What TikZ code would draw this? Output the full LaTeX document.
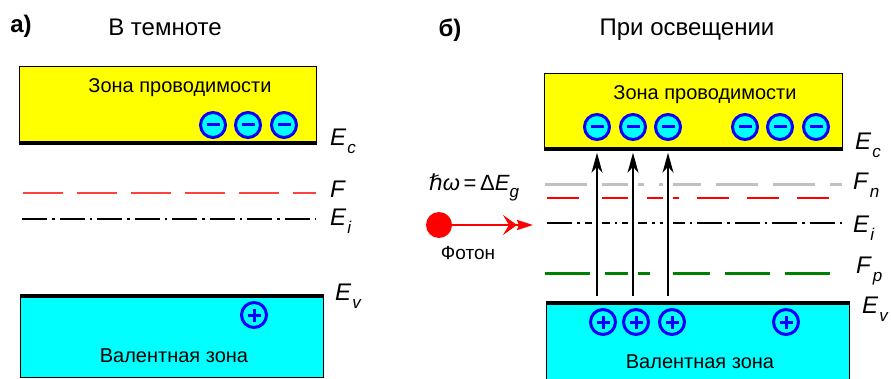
\documentclass[tikz,border=0pt]{standalone}
\usepackage{fontspec}
\setmainfont{Liberation Sans}
\newfontfamily\symbfont{DejaVu Sans}
\usetikzlibrary{arrows.meta,positioning}
\definecolor{bandyellow}{RGB}{255,255,0}
\definecolor{bandcyan}{RGB}{0,255,255}
\definecolor{chargeblue}{RGB}{0,0,255}
\definecolor{fermired}{RGB}{255,64,64}
\definecolor{quasired}{RGB}{255,0,0}
\definecolor{quasigray}{RGB}{192,192,192}
\definecolor{quasigreen}{RGB}{0,128,0}
\newcommand{\lvllabel}[2]{\textit{#1}\hspace{1pt}\raisebox{-8pt}{\fontsize{17}{17}\selectfont\textit{#2}}}

\begin{document}
\begin{tikzpicture}[x=1pt,y=-1pt]
\tikzset{
  cband/.style={draw=black,line width=0.8pt,fill=bandyellow,anchor=north west,inner sep=0pt},
  vband/.style={draw=black,line width=0.8pt,fill=bandcyan,anchor=north west,inner sep=0pt},
  bandedge/.style={line width=3.5pt},
  bandtext/.style={anchor=base,inner sep=0pt,font=\fontsize{20}{20}\selectfont},
  title/.style={font=\fontsize{24}{24}\selectfont},
  panel/.style={font=\bfseries\fontsize{24}{24}\selectfont},
  lvl/.style={anchor=base west,inner sep=0pt,font=\fontsize{24}{24}\selectfont},
  charge/.style={circle,draw=chargeblue,line width=3pt,fill=bandcyan,minimum size=25pt,inner sep=0pt},
  electron/.style={charge,path picture={
    \draw[chargeblue,line width=3pt] ([xshift=-6.5pt]path picture bounding box.center) -- ([xshift=6.5pt]path picture bounding box.center);}},
  hole/.style={charge,path picture={
    \draw[chargeblue,line width=3pt] ([xshift=-6.5pt]path picture bounding box.center) -- ([xshift=6.5pt]path picture bounding box.center);
    \draw[chargeblue,line width=3pt] ([yshift=-6.5pt]path picture bounding box.center) -- ([yshift=6.5pt]path picture bounding box.center);}},
  fermi/.style={draw=fermired,line width=1.3pt,dash pattern=on 40pt off 14pt},
  midgap/.style={draw=black,line width=1.2pt,dash pattern=on 25pt off 5pt on 2.5pt off 5pt},
  quasin/.style={draw=quasigray,line width=3pt,dash pattern=on 42pt off 15pt},
  quasired/.style={draw=quasired,line width=1.3pt,dash pattern=on 32pt off 18pt},
  quasip/.style={draw=quasigreen,line width=3pt,dash pattern=on 45pt off 15pt},
  halo/.style={draw=white,line width=10pt},
  excite/.style={-{Stealth[length=20pt,width=11pt,inset=6pt]},line width=1.3pt},
  photon/.style={draw=red,line width=2.2pt,-{Stealth[length=14pt,width=20pt,inset=6pt]Stealth[length=16pt,width=10pt,inset=2pt]}}
}
\useasboundingbox (0,0) rectangle (891,379);
\node[panel] (n_pa) at (21,26) {а)};
\node[title] (n_ta) at (165,27) {В темноте};
\node[panel] (n_pb) at (450,30) {б)};
\node[title] (n_tb) at (687,30) {При освещении};
\node[cband,minimum width=297pt,minimum height=78pt] (n_cbA) at (19,66) {};
\node[vband,minimum width=303pt,minimum height=83pt] (n_vbA) at (20,294) {};
\node[cband,minimum width=298pt,minimum height=77pt] (n_cbB) at (544,73) {};
\node[vband,minimum width=303pt,minimum height=90pt] (n_vbB) at (546,301) {};
\draw[bandedge] ([yshift=1.75pt]n_cbA.south west) -- ([yshift=1.75pt]n_cbA.south east);
\draw[bandedge] ([yshift=-1.75pt]n_vbA.north west) -- ([yshift=-1.75pt]n_vbA.north east);
\draw[bandedge] ([yshift=1.75pt]n_cbB.south west) -- ([yshift=1.75pt]n_cbB.south east);
\draw[bandedge] ([yshift=-1.75pt]n_vbB.north west) -- ([yshift=-1.75pt]n_vbB.north east);
\node[bandtext] (n_ctA) at (180,93) {Зона проводимости};
\node[bandtext] (n_vtA) at (174,362) {Валентная зона};
\node[bandtext] (n_ctB) at (705,100) {Зона проводимости};
\node[bandtext] (n_vtB) at (700,368) {Валентная зона};
\node[electron] (n_eA1) at (213,125) {};
\node[electron] (n_eA2) at (248,125) {};
\node[electron] (n_eA3) at (284,125) {};
\node[hole] (n_hA1) at (254,315) {};
\node[electron] (n_eB1) at (597,127) {};
\node[electron] (n_eB2) at (633,127) {};
\node[electron] (n_eB3) at (668,127) {};
\node[electron] (n_eB4) at (745,127) {};
\node[electron] (n_eB5) at (780,127) {};
\node[electron] (n_eB6) at (816,127) {};
\node[hole] (n_hB1) at (603,322) {};
\node[hole] (n_hB2) at (636,322) {};
\node[hole] (n_hB3) at (672,322) {};
\node[hole] (n_hB4) at (786,322) {};
\draw[fermi] (23,193) -- (316,193);
\draw[midgap] (22,219) -- (316,219);
\draw[quasin] (545,185) -- (842,185);
\draw[quasired] (547,198) -- (840,198);
\draw[midgap] (547,223) -- (842,223);
\draw[quasip] (545,274) -- (845,274);
\draw[halo] ([yshift=10pt]n_vbB.north -| n_eB1) -- ([yshift=-12pt]n_cbB.south -| n_eB1);
\draw[halo] ([yshift=10pt]n_vbB.north -| n_eB2) -- ([yshift=-12pt]n_cbB.south -| n_eB2);
\draw[halo] ([yshift=10pt]n_vbB.north -| n_eB3) -- ([yshift=-12pt]n_cbB.south -| n_eB3);
\draw[excite] ([yshift=5pt]n_vbB.north -| n_eB1) -- ([yshift=-2pt]n_cbB.south -| n_eB1);
\draw[excite] ([yshift=5pt]n_vbB.north -| n_eB2) -- ([yshift=-2pt]n_cbB.south -| n_eB2);
\draw[excite] ([yshift=5pt]n_vbB.north -| n_eB3) -- ([yshift=-2pt]n_cbB.south -| n_eB3);
\node[lvl] (n_EcA) at (330,146) {\lvllabel{E}{c}};
\node[lvl] (n_FA) at (330,198) {\textit{F}};
\node[lvl] (n_EiA) at (330,226) {\lvllabel{E}{i}};
\node[lvl] (n_EvA) at (335,301) {\lvllabel{E}{v}};
\node[lvl] (n_EcB) at (855,150) {\lvllabel{E}{c}};
\node[lvl] (n_FnB) at (853,190) {\lvllabel{F}{n}};
\node[lvl] (n_EiB) at (853,233) {\lvllabel{E}{i}};
\node[lvl] (n_FpB) at (856,273) {\lvllabel{F}{p}};
\node[lvl] (n_EvB) at (862,313) {\lvllabel{E}{v}};
\node[circle,fill=red,minimum size=26pt,inner sep=0pt] (n_ph) at (439,225) {};
\coordinate (n_phT) at (533,225);
\draw[photon] (n_ph) -- (n_phT);
\node[anchor=base,inner sep=0pt,font=\fontsize{22}{22}\selectfont] (n_hw) at (474,191)
  {{\symbfont\itshape ℏ}\textit{ω}\,=\,Δ\textit{E}\raisebox{-7pt}{\fontsize{17}{17}\selectfont\textit{g}}};
\node[anchor=base,inner sep=0pt,font=\fontsize{19}{19}\selectfont] (n_phl) at (468,260) {Фотон};
\end{tikzpicture}
\end{document}
